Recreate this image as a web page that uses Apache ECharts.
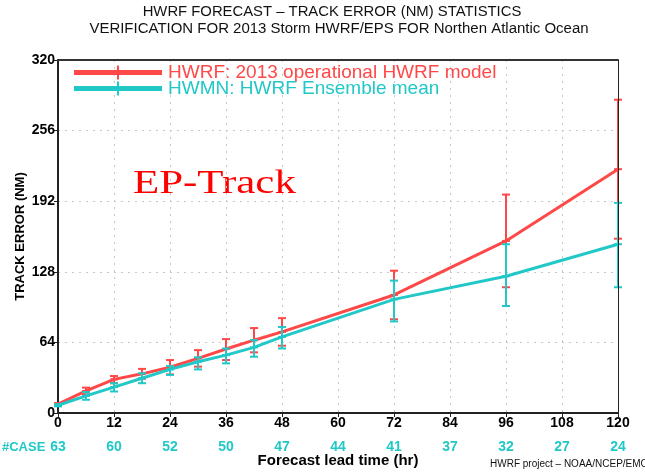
<!DOCTYPE html>
<html>
<head>
<meta charset="utf-8">
<script src="https://cdn.jsdelivr.net/npm/echarts@6/dist/echarts.min.js"></script>
<style>html,body{margin:0;padding:0;background:#fff;}#c{width:645px;height:472px;}</style>
</head>
<body>
<div id="c"></div>
<script>
// ---- data ----
var hours    = [0, 6, 12, 18, 24, 30, 36, 42, 48, 72, 96, 120];
var hwrf     = [8, 20, 30.5, 35.5, 41.5, 49.5, 58, 66, 73.5, 107, 156, 221];
var hwrfLow  = [7, 17, 27, 31, 35, 42, 48, 55, 61, 85, 114, 158];
var hwrfHigh = [9, 23, 33.5, 40, 48, 57, 67, 77, 86, 129, 198, 284];
var hwmn     = [7, 15.5, 23.5, 31.5, 39.5, 46.5, 52.5, 59.5, 69, 103, 124, 153];
var hwmnLow  = [6, 12, 19.5, 27, 34.5, 39.5, 45, 51, 58.5, 83, 97, 114];
var hwmnHigh = [8, 19, 27, 36, 42.5, 50.5, 58.5, 66, 78, 120, 153, 190.5];
var caseHours = [0, 12, 24, 36, 48, 60, 72, 84, 96, 108, 120];
var cases     = [63, 60, 52, 50, 47, 44, 41, 37, 32, 27, 24];
var yTicks = [0, 64, 128, 192, 256, 320];
var xTicks = [0, 12, 24, 36, 48, 60, 72, 84, 96, 108, 120];
var names = ['HWRF: 2013 operational HWRF model', 'HWMN: HWRF Ensemble mean'];

var RED = '#ff4848', CYAN = '#22c8c8';
var FONT = 'Liberation Sans';

function zip(a, b) { return a.map(function (v, i) { return [v, b[i]]; }); }
function bars(mean, lo, hi) { return hours.map(function (h, i) { return [h, lo[i], hi[i], mean[i]]; }); }
var caseMap = {};
caseHours.forEach(function (h, i) { caseMap[h] = cases[i]; });

function errRender(color) {
  return function (params, api) {
    var x = api.value(0);
    var lo = api.coord([x, api.value(1)]);
    var hi = api.coord([x, api.value(2)]);
    var md = api.coord([x, api.value(3)]);
    var w = 4;
    var st = { stroke: color, lineWidth: 2 };
    return {
      type: 'group',
      children: [
        { type: 'line', shape: { x1: lo[0], y1: lo[1], x2: hi[0], y2: hi[1] }, style: st },
        { type: 'line', shape: { x1: lo[0] - w, y1: lo[1], x2: lo[0] + w, y2: lo[1] }, style: st },
        { type: 'line', shape: { x1: hi[0] - w, y1: hi[1], x2: hi[0] + w, y2: hi[1] }, style: st },
        { type: 'line', shape: { x1: md[0] - w, y1: md[1], x2: md[0] + w, y2: md[1] }, style: st }
      ]
    };
  };
}

var legendIcon = 'path://M0,4.5L88,4.5L88,9.5L0,9.5Z M43,0L45,0L45,14L43,14Z';

var chart = echarts.init(document.getElementById('c'), null, { renderer: 'canvas' });
chart.setOption({
  animation: false,
  backgroundColor: '#fff',
  grid: { left: 58, right: 27, top: 60, bottom: 59, containLabel: false, outerBoundsMode: 'none' },
  legend: {
    left: 69, top: 58, orient: 'vertical', itemGap: -3,
    itemWidth: 88, itemHeight: 14, icon: legendIcon,
    data: [
      { name: names[0], textStyle: { color: RED } },
      { name: names[1], textStyle: { color: CYAN } }
    ],
    textStyle: { fontFamily: FONT, fontSize: 19, lineHeight: 17, padding: [0, 0, 0, 1] }
  },
  xAxis: [
    {
      type: 'value', min: 0, max: 120, interval: 12, position: 'bottom',
      axisLine: { show: true, onZero: false, lineStyle: { color: '#222', width: 2 } },
      axisTick: { show: true, length: 4, lineStyle: { color: '#222' } },
      axisLabel: { color: '#000', fontFamily: FONT, fontSize: 14, fontWeight: 'bold', margin: 3 },
      splitLine: { show: true, lineStyle: { color: '#c8c8c8', type: [2, 5] } },
      name: 'Forecast lead time (hr)', nameLocation: 'middle', nameGap: 40, nameMoveOverlap: false,
      nameTextStyle: { color: '#000', fontFamily: FONT, fontSize: 15, fontWeight: 'bold' }
    },
    {
      type: 'value', min: 0, max: 120, interval: 12, position: 'bottom', offset: 24,
      axisLine: { show: false }, axisTick: { show: false }, splitLine: { show: false },
      axisLabel: { color: CYAN, fontFamily: FONT, fontSize: 14, fontWeight: 'bold', margin: 3,
        formatter: function (v) { return caseMap[v] != null ? String(caseMap[v]) : ''; } }
    },
    {
      type: 'value', min: 0, max: 120, interval: 12, position: 'top', z: 5,
      axisLine: { show: true, onZero: false, lineStyle: { color: '#333', width: 2 } },
      axisTick: { show: false }, axisLabel: { show: false }, splitLine: { show: false }
    }
  ],
  yAxis: [
    {
      type: 'value', min: 0, max: 320, interval: 64, position: 'left',
      axisLine: { show: true, onZero: false, lineStyle: { color: '#222', width: 2 } },
      axisTick: { show: true, length: 4, lineStyle: { color: '#222' } },
      axisLabel: { color: '#000', fontFamily: FONT, fontSize: 14, fontWeight: 'bold', margin: 3 },
      splitLine: { show: true, lineStyle: { color: '#c8c8c8', type: [2, 5] } },
      name: 'TRACK ERROR (NM)', nameLocation: 'middle', nameGap: 31, nameMoveOverlap: false,
      nameTextStyle: { color: '#000', fontFamily: FONT, fontSize: 13, fontWeight: 'bold' }
    },
    {
      type: 'value', min: 0, max: 320, interval: 64, position: 'right', z: 5,
      axisLine: { show: true, onZero: false, lineStyle: { color: '#222', width: 1 } },
      axisTick: { show: false }, axisLabel: { show: false }, splitLine: { show: false }
    }
  ],
  series: [
    {
      name: names[0], type: 'line', data: zip(hours, hwrf), showSymbol: false, symbol: 'none',
      lineStyle: { color: RED, width: 3 }, itemStyle: { color: RED }, z: 2
    },
    {
      name: 'hwrf-err', type: 'custom', data: bars(hwrf, hwrfLow, hwrfHigh),
      renderItem: errRender(RED), z: 3, encode: { x: 0, y: [1, 2] }
    },
    {
      name: names[1], type: 'line', data: zip(hours, hwmn), showSymbol: false, symbol: 'none',
      lineStyle: { color: CYAN, width: 3 }, itemStyle: { color: CYAN }, z: 4
    },
    {
      name: 'hwmn-err', type: 'custom', data: bars(hwmn, hwmnLow, hwmnHigh),
      renderItem: errRender(CYAN), z: 4, encode: { x: 0, y: [1, 2] }
    }
  ],
  graphic: [
    { type: 'text', x: 332, y: 12, scaleX: 1.06, style: { text: 'HWRF FORECAST – TRACK ERROR (NM) STATISTICS',
      fill: '#111', font: '14px "Liberation Sans"', align: 'center', verticalAlign: 'middle' } },
    { type: 'text', x: 339, y: 29, scaleX: 1.07, style: { text: 'VERIFICATION FOR 2013 Storm HWRF/EPS FOR Northen Atlantic Ocean',
      fill: '#111', font: '14px "Liberation Sans"', align: 'center', verticalAlign: 'middle' } },
    { type: 'text', x: 133, y: 168, scaleX: 1.3, style: { text: 'EP-Track',
      fill: '#ff0000', font: '33px "Liberation Serif"', align: 'left', verticalAlign: 'top' } },
    { type: 'text', x: 2, y: 447, style: { text: '#CASE',
      fill: CYAN, font: 'bold 13px "Liberation Sans"', align: 'left', verticalAlign: 'middle' } },
    { type: 'text', x: 490, y: 464, style: { text: 'HWRF project – NOAA/NCEP/EMC',
      fill: '#111', font: '10px "Liberation Sans"', align: 'left', verticalAlign: 'middle' } }
  ]
});
</script>
</body>
</html>
